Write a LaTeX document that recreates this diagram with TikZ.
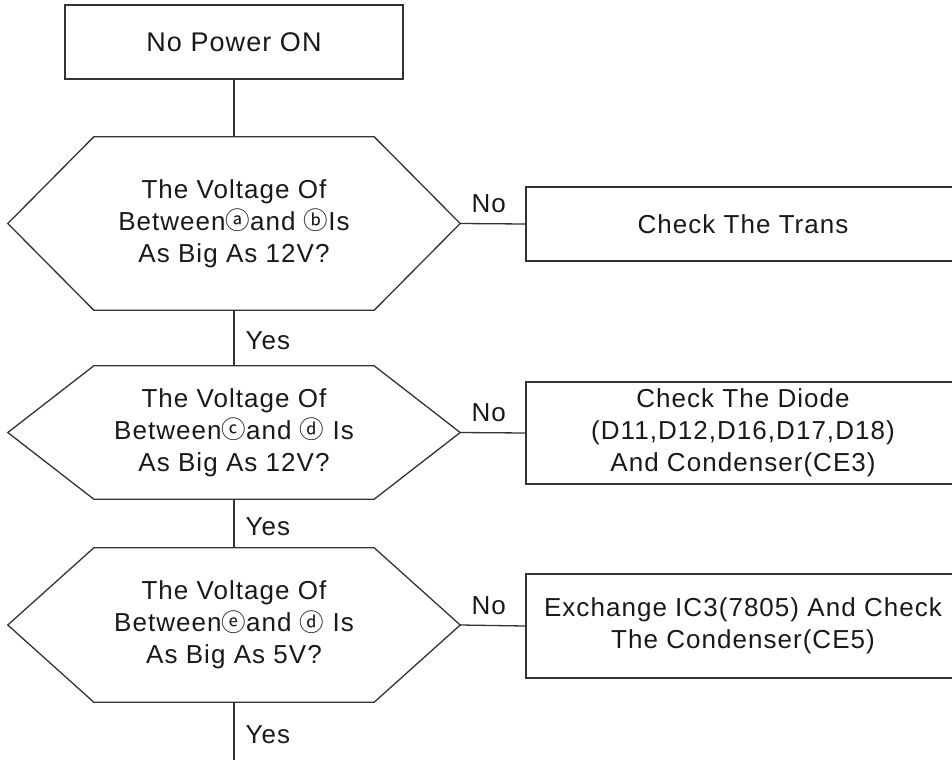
\documentclass[tikz,border=0pt]{standalone}
\usepackage{fontspec}
\setmainfont{Liberation Sans}[LetterSpace=4]
\newfontfamily\circfont{Noto Sans CJK KR}
\newcommand\cl[1]{{\circfont\fontsize{24.5}{25}\selectfont\raisebox{0.5pt}{#1}}}
\begin{document}
\begin{tikzpicture}[x=1pt,y=-1pt,
  ln/.style={line width=1.3pt, draw=black!80},
  txt/.style={align=center, text=black!90, font=\fontsize{26}{32}\selectfont},
  boxnode/.style={ln, rectangle, txt, inner sep=0pt},
  hexnode/.style={rectangle, txt, inner sep=0pt, minimum width=452pt},
  lbl/.style={text=black!90, font=\fontsize{26}{30}\selectfont, inner sep=0pt}]
\useasboundingbox (0,0) rectangle (952,760);
\clip (0,0) rectangle (952,760);
\node[boxnode, minimum width=338pt, minimum height=74pt, font=\fontsize{27}{32}\selectfont] (top) at (234,42) {No Power ON};
\node[hexnode, minimum height=173pt] (h1) at (234,223.5) {The Voltage Of\\Between\cl{ⓐ}and \cl{ⓑ}Is\\As Big As 12V?};
\node[hexnode, minimum height=133pt] (h2) at (234,432.5) {The Voltage Of\\Between\cl{ⓒ}and \cl{ⓓ} Is\\As Big As 12V?};
\node[hexnode, minimum height=154pt] (h3) at (234,625) {The Voltage Of\\Between\cl{ⓔ}and \cl{ⓓ} Is\\As Big As 5V?};
\foreach \n in {h1,h2,h3}
  \draw[ln] (\n.west) -- ([xshift=86pt]\n.north west) -- ([xshift=-86pt]\n.north east) -- (\n.east) -- ([xshift=-86pt]\n.south east) -- ([xshift=86pt]\n.south west) -- cycle;
\node[boxnode, minimum width=434pt, minimum height=74pt] (b1) at (743,224) {Check The Trans};
\node[boxnode, minimum width=434pt, minimum height=102pt] (b2) at (743,433) {Check The Diode\\(D11,D12,D16,D17,D18)\\And Condenser(CE3)};
\node[boxnode, minimum width=434pt, minimum height=104pt] (b3) at (743,626) {Exchange IC3(7805) And Check\\The Condenser(CE5)};
\coordinate (end) at (234,760);
\draw[ln] (top.south) -- (h1.north);
\draw[ln] (h1.south) -- node[lbl, right=11pt, yshift=-3pt] {Yes} (h2.north);
\draw[ln] (h2.south) -- node[lbl, right=11pt, yshift=-3pt] {Yes} (h3.north);
\draw[ln] (h3.south) -- node[lbl, right=11pt, yshift=-4pt] {Yes} (end);
\draw[ln] (h1.east) -- node[lbl, above=10pt, xshift=-4pt] {No} (b1.west);
\draw[ln] (h2.east) -- node[lbl, above=10pt, xshift=-4pt] {No} (b2.west);
\draw[ln] (h3.east) -- node[lbl, above=10pt, xshift=-4pt] {No} (b3.west);
\end{tikzpicture}
\end{document}
